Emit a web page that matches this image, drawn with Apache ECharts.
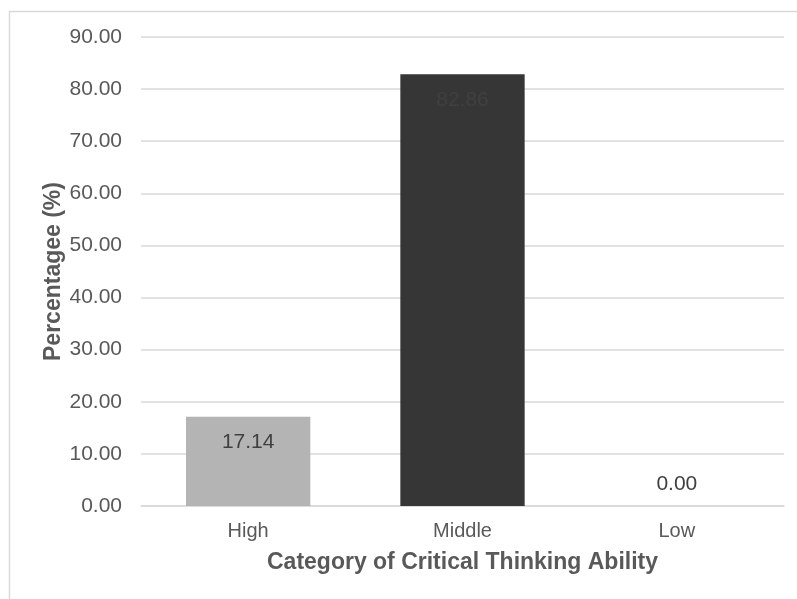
<!DOCTYPE html>
<html>
<head>
<meta charset="utf-8">
<script src="https://cdn.jsdelivr.net/npm/echarts@6/dist/echarts.min.js"></script>
<style>
  html, body { margin: 0; padding: 0; background: #fff; }
  #chart { width: 797px; height: 599px; }
</style>
</head>
<body>
<div id="chart"></div>
<script>
// Share of students per critical-thinking category
const categories = ['High', 'Middle', 'Low'];
const percentages = [17.14, 82.86, 0.00];
const barColors = ['#b4b4b4', '#363636', '#a5a5a5'];
const yTickMax = 90;
const yTickStep = 10;

const chart = echarts.init(document.getElementById('chart'), null, { renderer: 'canvas' });

const font = 'Liberation Sans, Arial, sans-serif';

chart.setOption({
  animation: false,
  backgroundColor: '#ffffff',
  graphic: [{
    type: 'rect',
    shape: { x: 9.5, y: 11.5, width: 820, height: 620 },
    style: { fill: 'none', stroke: '#d9d9d9', lineWidth: 1.5 },
    silent: true
  }],
  grid: { left: 141, right: 13, top: 37, bottom: 93, containLabel: false },
  xAxis: {
    type: 'category',
    data: categories,
    axisTick: { show: false },
    axisLine: { show: true, lineStyle: { color: '#d9d9d9', width: 1.5 } },
    axisLabel: { color: '#595959', fontSize: 20, fontFamily: font, margin: 15 },
    name: 'Category of Critical Thinking Ability',
    nameLocation: 'middle',
    nameGap: 45,
    nameMoveOverlap: false,
    nameTextStyle: { color: '#595959', fontSize: 23, fontWeight: 'bold', fontFamily: font }
  },
  yAxis: {
    type: 'value',
    min: 0,
    max: yTickMax,
    interval: yTickStep,
    axisLine: { show: false },
    axisTick: { show: false },
    splitLine: { lineStyle: { color: '#d9d9d9', width: 1.5 } },
    axisLabel: {
      color: '#595959', fontSize: 21, fontFamily: font, margin: 19,
      formatter: v => v.toFixed(2)
    },
    name: 'Percentagee (%)',
    nameLocation: 'middle',
    nameGap: 76,
    nameMoveOverlap: false,
    nameTextStyle: { color: '#595959', fontSize: 23, fontWeight: 'bold', fontFamily: font }
  },
  series: [{
    type: 'bar',
    barWidth: '58%',
    data: percentages.map((v, i) => ({
      value: v,
      itemStyle: { color: barColors[i] },
      label: v > 0
        ? { position: 'insideTop', distance: 15 }
        : { position: 'top', distance: 11 }
    })),
    label: {
      show: true,
      color: '#404040',
      fontSize: 21,
      fontFamily: font,
      formatter: p => p.value.toFixed(2)
    }
  }]
});
</script>
</body>
</html>
